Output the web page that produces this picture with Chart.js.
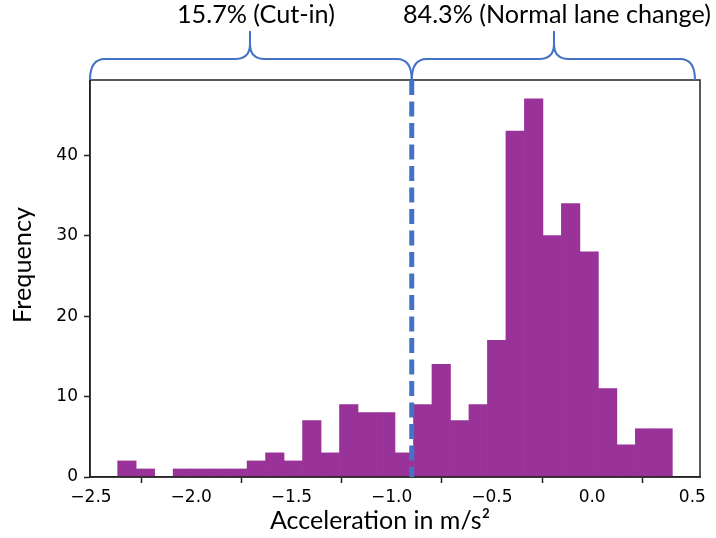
<!DOCTYPE html>
<html>
<head>
<meta charset="utf-8">
<script src="https://cdn.jsdelivr.net/npm/chart.js@4/dist/chart.umd.min.js"></script>
<style>
  html, body { margin: 0; padding: 0; background: #fff; }
  #wrap { width: 716px; height: 538px; }
</style>
</head>
<body>
<div id="wrap"><canvas id="chart" width="716" height="538"></canvas></div>
<script>
// histogram of 30 bins between the smallest and largest sample
const BIN_START = -2.367;
const BIN_END = 0.4;
const BIN_COUNT = 30;
const counts = [2, 1, 0, 1, 1, 1, 1, 2, 3, 2, 7, 3, 9, 8, 8, 3, 9, 14, 7, 9, 17, 43, 47, 30, 34, 28, 11, 4, 6, 6];

const xTicks = [-2.5, -2.0, -1.5, -1.0, -0.5, 0.0, 0.5];
const yTicks = [0, 10, 20, 30, 40];

const threshold = -0.9;
const groupLabels = ['15.7% (Cut-in)', '84.3% (Normal lane change)'];
const xTitle = 'Acceleration in m/s\u00b2';
const yTitle = 'Frequency';

const BAR_COLOR = '#993399';
const BLUE = '#4472C4';
const LABEL_FONT = 'Lato, "Open Sans", sans-serif';
const TICK_FONT = '"DejaVu Sans", sans-serif';

const binWidth = (BIN_END - BIN_START) / BIN_COUNT;
const points = counts.map(function (c, i) {
  return { x: BIN_START + binWidth * (i + 0.5), y: c };
});

// the labels came from Calibri in the original, size them to the same width
function fitFont(ctx, text, width) {
  ctx.font = '24px ' + LABEL_FONT;
  const size = 24 * width / ctx.measureText(text).width;
  ctx.font = size.toFixed(2) + 'px ' + LABEL_FONT;
}

// matplotlib style: frame, threshold line and braces above the axes
const extras = {
  id: 'extras',
  afterDraw: function (chart) {
    const ctx = chart.ctx;
    const area = chart.chartArea;
    const xs = chart.scales.x;
    const xt = xs.getPixelForValue(threshold);

    ctx.save();
    ctx.strokeStyle = '#222';
    ctx.lineWidth = 1.5;
    ctx.strokeRect(area.left, area.top, area.right - area.left, area.bottom - area.top);

    ctx.strokeStyle = BLUE;
    ctx.lineWidth = 5;
    ctx.setLineDash([15, 6.5]);
    ctx.beginPath();
    ctx.moveTo(xt, area.top);
    ctx.lineTo(xt, area.bottom);
    ctx.stroke();
    ctx.setLineDash([]);

    function brace(x0, x1, xm) {
      const yb = area.top;
      const ym = 59;
      const yt = 31;
      const r = 15;
      ctx.beginPath();
      ctx.moveTo(x0, yb);
      ctx.quadraticCurveTo(x0, ym, x0 + r, ym);
      ctx.lineTo(xm - r, ym);
      ctx.quadraticCurveTo(xm, ym, xm, ym - r);
      ctx.lineTo(xm, yt);
      ctx.moveTo(xm, ym - r);
      ctx.quadraticCurveTo(xm, ym, xm + r, ym);
      ctx.lineTo(x1 - r, ym);
      ctx.quadraticCurveTo(x1, ym, x1, yb);
      ctx.stroke();
    }
    ctx.lineWidth = 2;
    brace(area.left, xt, 250);
    brace(xt, area.right - 5, 554);

    ctx.fillStyle = '#000';
    ctx.textAlign = 'left';
    ctx.textBaseline = 'alphabetic';
    fitFont(ctx, groupLabels[0], 158);
    ctx.fillText(groupLabels[0], 177, 23);
    fitFont(ctx, groupLabels[1], 308);
    ctx.fillText(groupLabels[1], 403, 23);

    fitFont(ctx, xTitle, 220);
    ctx.fillText(xTitle, 270, 529);

    ctx.translate(31, 265);
    ctx.rotate(-Math.PI / 2);
    ctx.textAlign = 'center';
    fitFont(ctx, yTitle, 116);
    ctx.fillText(yTitle, 0, 0);
    ctx.restore();
  }
};

new Chart(document.getElementById('chart'), {
  type: 'bar',
  data: {
    datasets: [
      {
        data: points,
        backgroundColor: BAR_COLOR,
        borderWidth: 0,
        barPercentage: 1,
        categoryPercentage: 1
      }
    ]
  },
  options: {
    responsive: false,
    animation: false,
    layout: { padding: { left: 0, top: 80, right: 16, bottom: 0 } },
    plugins: {
      legend: { display: false },
      tooltip: { enabled: false }
    },
    scales: {
      x: {
        type: 'linear',
        offset: false,
        min: -2.505,
        max: 0.538,
        afterFit: function (scale) { scale.height = 61; },
        afterBuildTicks: function (scale) {
          scale.ticks = xTicks.map(function (v) { return { value: v }; });
        },
        ticks: {
          color: '#000',
          padding: 4,
          font: { family: TICK_FONT, size: 17 },
          maxRotation: 0,
          callback: function (v) { return v.toFixed(1).replace('-', '\u2212'); }
        },
        grid: { drawOnChartArea: false, drawTicks: true, tickLength: 6, tickWidth: 1.5, color: '#222' },
        border: { display: true, color: '#222', width: 1.5 }
      },
      y: {
        min: 0,
        max: 49.35,
        afterFit: function (scale) { scale.width = 90; },
        afterBuildTicks: function (scale) {
          scale.ticks = yTicks.map(function (v) { return { value: v }; });
        },
        ticks: {
          color: '#000',
          padding: 6,
          font: { family: TICK_FONT, size: 17 }
        },
        grid: { drawOnChartArea: false, drawTicks: true, tickLength: 6, tickWidth: 1.5, color: '#222' },
        border: { display: true, color: '#222', width: 1.5 }
      }
    }
  },
  plugins: [extras]
});
</script>
</body>
</html>
